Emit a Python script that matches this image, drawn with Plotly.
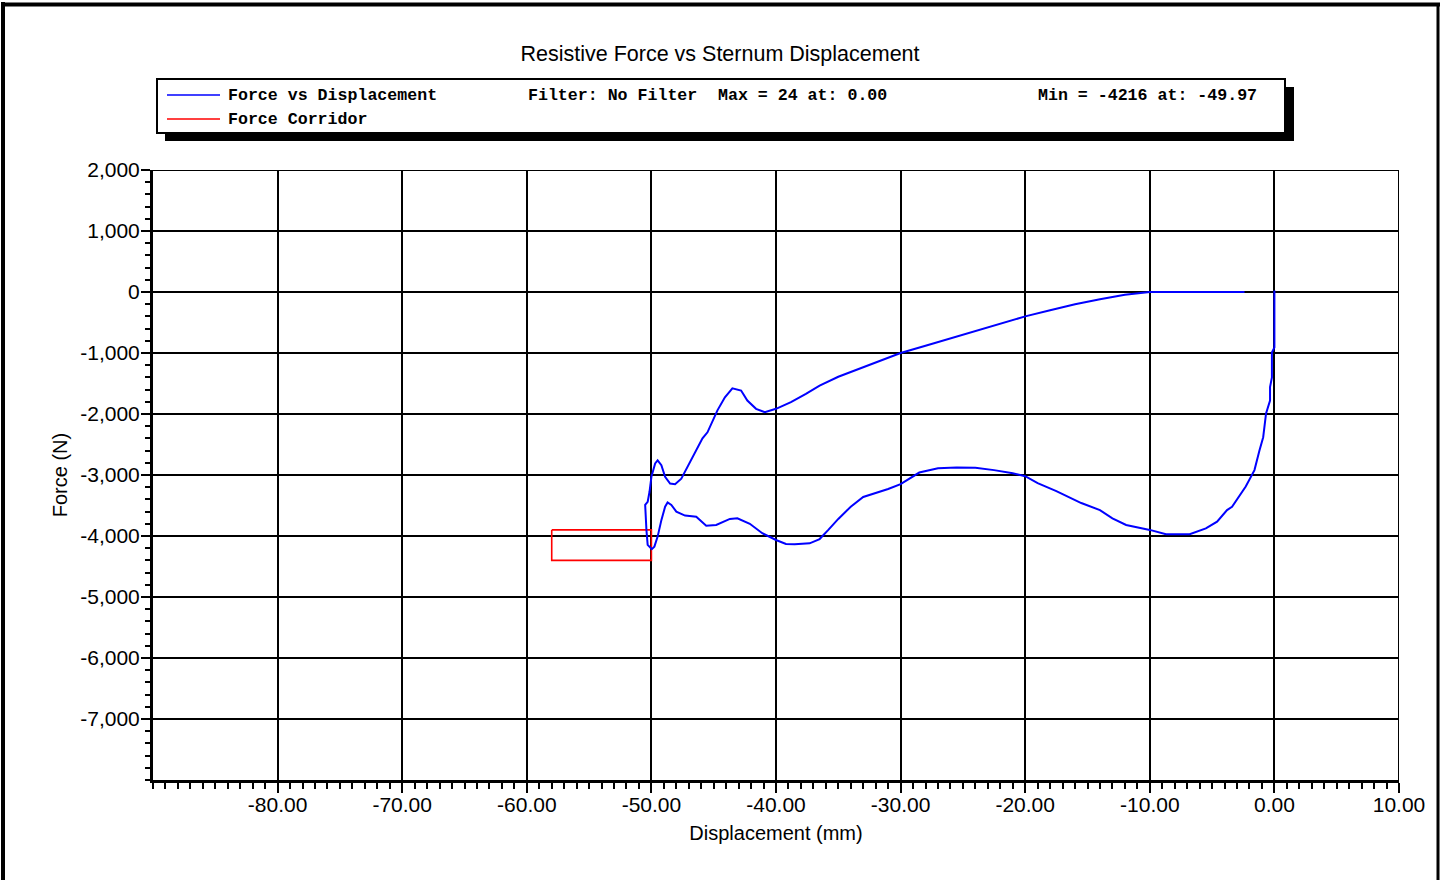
import plotly.graph_objects as go

# Sternum displacement (mm) and resistive force (N) along the load/unload loop
displacement = [
    0.00, 0.00, -0.2, -0.2, -0.35, -0.35, -0.67, -0.9, -1.2, -1.6, -2.3, -3.4, -3.8,
    -4.6, -5.5, -6.8, -8.7, -10.0, -11.9, -13.0, -14.0, -15.5, -17.5, -19.0, -20.0,
    -21.0, -22.5, -24.0, -25.5, -27.0, -28.5, -30.0, -31.0, -32.0, -33.0, -34.0,
    -35.0, -35.8, -36.5, -37.3, -38.5, -39.2, -40.0, -41.1, -42.1, -43.1, -43.7,
    -44.8, -45.6, -46.4, -47.3, -48.0, -48.4, -48.7, -48.9, -49.2, -49.5, -49.76,
    -49.97,
    -50.3, -50.4, -50.5, -50.3, -50.15, -50.0, -49.7, -49.5, -49.2, -48.9, -48.5,
    -48.1, -47.6, -47.1, -46.3, -45.9, -45.5, -44.7, -44.1, -43.5, -42.8, -42.3,
    -41.6, -40.9, -40.0, -38.8, -37.6, -36.5, -35.0, -33.0, -31.5, -30.0, -28.0,
    -26.0, -24.0, -22.0, -20.0, -18.0, -16.0, -14.0, -12.0, -10.0, -2.4,
]
force = [
    24, -910, -990, -1400, -1560, -1780, -1990, -2380, -2600, -2920, -3190, -3520, -3575,
    -3765, -3875, -3970, -3970, -3900, -3820, -3710, -3575, -3460, -3264, -3133, -3020,
    -2970, -2920, -2880, -2875, -2890, -2960, -3150, -3230, -3290, -3360, -3520,
    -3720, -3900, -4050, -4120, -4135, -4130, -4065, -3955, -3800, -3710, -3720,
    -3820, -3830, -3685, -3665, -3600, -3490, -3450, -3520, -3740, -4010, -4175,
    -4216,
    -4145, -3900, -3490, -3440, -3275, -3030, -2810, -2760, -2840, -3030, -3140,
    -3150, -3060, -2870, -2570, -2400, -2300, -1940, -1725, -1580, -1615, -1780,
    -1915, -1970, -1915, -1805, -1670, -1535, -1390, -1230, -1110, -1000, -880,
    -760, -650, -520, -400, -300, -200, -120, -45, 0, 0,
]

# Corridor rectangle (closed outline)
corridor_x = [-58, -50, -50, -58, -58]
corridor_y = [-3900, -3900, -4400, -4400, -3900]

x_ticks = [-80, -70, -60, -50, -40, -30, -20, -10, 0, 10]
x_ticktext = ["-80.00", "-70.00", "-60.00", "-50.00", "-40.00", "-30.00",
              "-20.00", "-10.00", "0.00", "10.00"]
y_ticks = [2000, 1000, 0, -1000, -2000, -3000, -4000, -5000, -6000, -7000]
y_ticktext = ["2,000", "1,000", "0", "-1,000", "-2,000", "-3,000", "-4,000",
              "-5,000", "-6,000", "-7,000"]

legend_names = ["Force vs Displacement", "Force Corridor"]
legend_colors = ["#0000ff", "#ff0000"]
stat_filter = "Filter: No Filter"
stat_max = "Max = 24 at: 0.00"
stat_min = "Min = -4216 at: -49.97"

W, H = 1440, 880
L, R, T, B = 153, 1399, 170, 780


def px_x(px):
    return (px - L) / (R - L)


def px_y(py):
    return (B - py) / (B - T)


fig = go.Figure()
fig.add_trace(go.Scatter(
    x=corridor_x, y=corridor_y, mode="lines",
    line=dict(color=legend_colors[1], width=1.6),
    name=legend_names[1], hoverinfo="skip",
))
fig.add_trace(go.Scatter(
    x=displacement, y=force, mode="lines",
    line=dict(color=legend_colors[0], width=2),
    name=legend_names[0],
))

sans = "Arial, Liberation Sans, sans-serif"
mono = "Courier New, Liberation Mono, monospace"

shapes = []
# plot frame top and right edges
shapes.append(dict(type="line", xref="x", yref="y", x0=-90, x1=10, y0=2000, y1=2000,
                   line=dict(color="black", width=2)))
shapes.append(dict(type="line", xref="x", yref="y", x0=10, x1=10, y0=-8000, y1=2000,
                   line=dict(color="black", width=2)))
# outer page frame
shapes.append(dict(type="line", xref="paper", yref="paper",
                   x0=px_x(3), x1=px_x(3), y0=px_y(2), y1=px_y(900),
                   line=dict(color="black", width=4)))
shapes.append(dict(type="line", xref="paper", yref="paper",
                   x0=px_x(1), x1=px_x(1440), y0=px_y(4.5), y1=px_y(4.5),
                   line=dict(color="black", width=4)))
shapes.append(dict(type="line", xref="paper", yref="paper",
                   x0=px_x(1438), x1=px_x(1438), y0=px_y(3), y1=px_y(900),
                   line=dict(color="black", width=3)))
# legend box with drop shadow
shapes.append(dict(type="rect", xref="paper", yref="paper",
                   x0=px_x(165), x1=px_x(1294), y0=px_y(87), y1=px_y(141),
                   fillcolor="black", line=dict(width=0)))
shapes.append(dict(type="rect", xref="paper", yref="paper",
                   x0=px_x(157), x1=px_x(1285), y0=px_y(79), y1=px_y(133),
                   fillcolor="white", line=dict(color="black", width=2)))
# legend line samples
for i, c in enumerate(legend_colors):
    yy = px_y(95 + 24 * i)
    shapes.append(dict(type="line", xref="paper", yref="paper",
                       x0=px_x(167), x1=px_x(220), y0=yy, y1=yy,
                       line=dict(color=c, width=1.5)))

annotations = []
for i, name in enumerate(legend_names):
    annotations.append(dict(xref="paper", yref="paper", x=px_x(226), y=px_y(95.5 + 24 * i),
                            text=f"<b>{name}</b>", showarrow=False, xanchor="left",
                            yanchor="middle", font=dict(family=mono, size=16.6, color="black")))
for txt, xp in [(stat_filter, 526), (stat_max, 716), (stat_min, 1036)]:
    annotations.append(dict(xref="paper", yref="paper", x=px_x(xp), y=px_y(95.5),
                            text=f"<b>{txt}</b>", showarrow=False, xanchor="left",
                            yanchor="middle", font=dict(family=mono, size=16.6, color="black")))

fig.update_layout(
    width=W, height=H,
    margin=dict(l=L, r=W - R, t=T, b=H - B),
    paper_bgcolor="white", plot_bgcolor="white",
    showlegend=False,
    title=dict(text="Resistive Force vs Sternum Displacement", x=0.5, xref="container",
               xanchor="center", y=1 - 53 / H, yref="container", yanchor="middle",
               font=dict(family=sans, size=21.5, color="black")),
    shapes=shapes,
    annotations=annotations,
    xaxis=dict(
        range=[-90, 10], tickmode="array", tickvals=x_ticks, ticktext=x_ticktext,
        showline=True, linecolor="black", linewidth=3,
        ticks="outside", ticklen=10, tickwidth=2, tickcolor="black",
        showgrid=True, gridcolor="black", gridwidth=2, zeroline=False,
        minor=dict(dtick=1, tick0=0, ticks="outside", ticklen=6, tickwidth=1.5,
                   tickcolor="black", showgrid=False),
        tickfont=dict(family=sans, size=21, color="black"),
        ticklabelstandoff=-6,
        title=dict(text="Displacement (mm)", font=dict(family=sans, size=20, color="black"),
                   standoff=11),
        automargin=False,
    ),
    yaxis=dict(
        range=[-8000, 2000], tickmode="array", tickvals=y_ticks, ticktext=y_ticktext,
        showline=True, linecolor="black", linewidth=3,
        ticks="outside", ticklen=9, tickwidth=2, tickcolor="black",
        showgrid=True, gridcolor="black", gridwidth=2, zeroline=False,
        minor=dict(dtick=200, tick0=0, ticks="outside", ticklen=5, tickwidth=1.5,
                   tickcolor="black", showgrid=False),
        tickfont=dict(family=sans, size=21, color="black"),
        ticklabelstandoff=-3,
        title=dict(text="Force (N)", font=dict(family=sans, size=20, color="black"),
                   standoff=8),
        automargin=False,
    ),
)

fig.write_html("out.html")
